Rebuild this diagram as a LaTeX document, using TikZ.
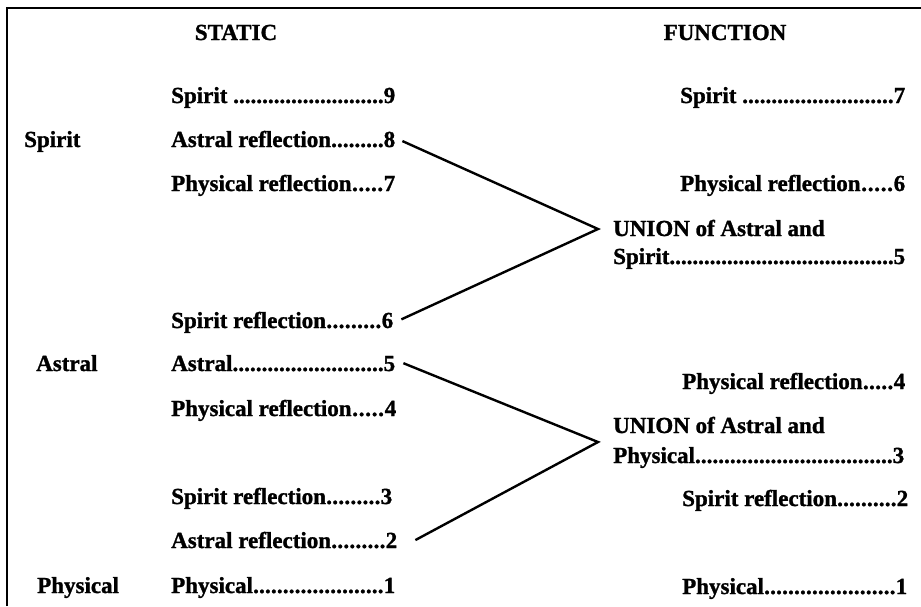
\documentclass[tikz,border=0pt]{standalone}
\usepackage{fontspec}
\setmainfont{Liberation Serif}[BoldFeatures={FakeBold=1.2}]
\newcommand\drow[3]{\hbox to #1{#2\xleaders\hbox{.}\hfill#3}}
\begin{document}
\begin{tikzpicture}[x=1pt,y=-1pt,
  lbl/.style={inner sep=0pt,anchor=base west,font=\fontsize{23}{26}\selectfont\bfseries},
  ttl/.style={inner sep=0pt,anchor=base,font=\fontsize{23}{26}\selectfont\bfseries},
  conn/.style={line width=2.4pt,line join=miter},
  frame/.style={line width=1.6pt}]
\useasboundingbox (0,0) rectangle (921,606);
\draw[frame] (7,606) -- (7,8) -- (921,8);
% titles
\node[ttl] (tstatic) at (236,40) {STATIC};
\node[ttl] (tfunc) at (725,40) {FUNCTION};
% categories
\node[lbl] (cspirit) at (24,147) {Spirit};
\node[lbl] (castral) at (36,371) {Astral};
\node[lbl] (cphys) at (37,593) {Physical};
% static column
\node[lbl] (s9) at (171,103) {\drow{224pt}{Spirit }{9}};
\node[lbl] (s8) at (171,147) {\drow{224pt}{Astral reflection}{8}};
\node[lbl] (s7) at (171,191) {\drow{224pt}{Physical reflection}{7}};
\node[lbl] (s6) at (171,328) {\drow{222pt}{Spirit reflection}{6}};
\node[lbl] (s5) at (171,371) {\drow{224pt}{Astral}{5}};
\node[lbl] (s4) at (171,416) {\drow{225pt}{Physical reflection}{4}};
\node[lbl] (s3) at (171,504) {\drow{221pt}{Spirit reflection}{3}};
\node[lbl] (s2) at (171,548) {\drow{226pt}{Astral reflection}{2}};
\node[lbl] (s1) at (171,593) {\drow{224pt}{Physical}{1}};
% function column
\node[lbl] (f7) at (680,103) {\drow{225pt}{Spirit }{7}};
\node[lbl] (f6) at (680,191) {\drow{225pt}{Physical reflection}{6}};
\node[lbl] (u5a) at (613,236) {UNION of Astral and};
\node[lbl] (u5b) at (613,264) {\drow{292pt}{Spirit}{5}};
\node[lbl] (f4) at (682,389) {\drow{223pt}{Physical reflection}{4}};
\node[lbl] (u3a) at (613,433) {UNION of Astral and};
\node[lbl] (u3b) at (613,463) {\drow{291pt}{Physical}{3}};
\node[lbl] (f2) at (682,506) {\drow{226pt}{Spirit reflection}{2}};
\node[lbl] (f1) at (682,594) {\drow{225pt}{Physical}{1}};
% connectors
\coordinate (apexA) at ([xshift=-15pt,yshift=-1pt]u5a.west);
\coordinate (apexB) at ([xshift=-15pt,yshift=-17pt]u3a.west);
\draw[conn] ([xshift=7pt,yshift=-2pt]s8.east) -- (apexA) -- ([xshift=8pt,yshift=3pt]s6.east);
\draw[conn] ([xshift=8pt]s5.east) -- (apexB) -- ([xshift=18pt,yshift=0pt]s2.east);
\end{tikzpicture}
\end{document}
